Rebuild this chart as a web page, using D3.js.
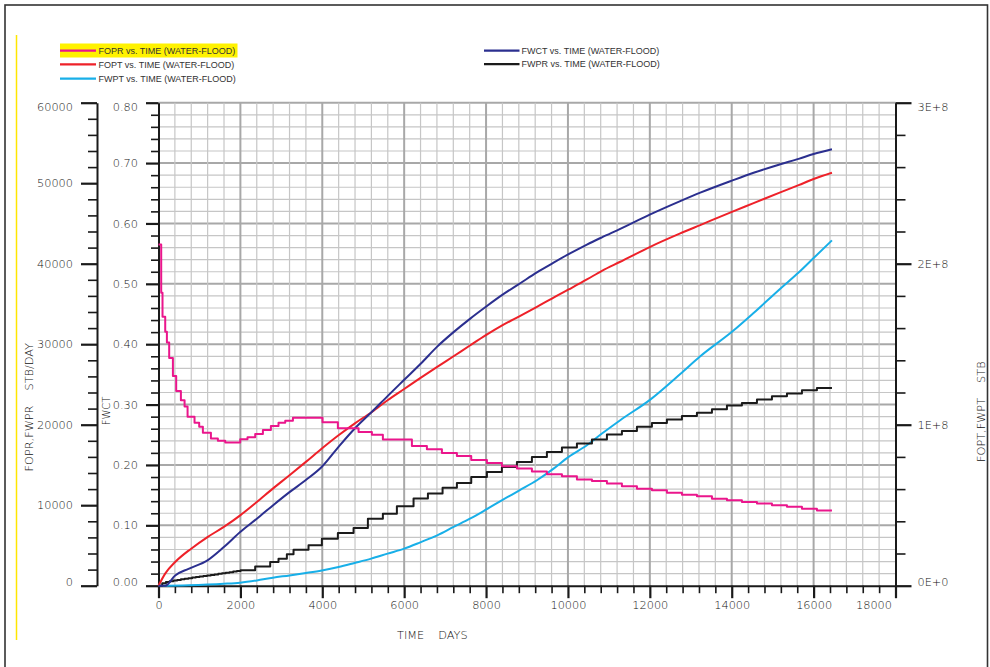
<!DOCTYPE html>
<html>
<head>
<meta charset="utf-8">
<script src="https://cdn.jsdelivr.net/npm/d3@7"></script>
<style>
  html, body { margin: 0; padding: 0; background: #fff; }
  svg { display: block; }
  .tick text { font-family: "DejaVu Sans", sans-serif; font-size: 11.3px; font-weight: 200; fill: #111; }
  .axis-title { font-family: "DejaVu Sans", sans-serif; font-size: 11.3px; font-weight: 200; fill: #111; }
  .legend text { font-family: "Liberation Sans", Arial, sans-serif; font-size: 9px; fill: #333; }
</style>
</head>
<body>
<svg id="chart" width="990" height="667"></svg>
<script>
// Field production summary, water-flood case (time in days)

// FOPR – field oil production rate, STB/DAY (step per report interval)
const foprDays = [0, 66, 98, 164, 205, 261, 352, 432, 547, 637, 710, 880, 994, 1084, 1280, 1450, 1630,
  1996, 2174, 2362, 2550, 2745, 2931, 3095, 3283, 4006, 4381, 4886, 5212, 5480, 6189, 6555, 6922,
  7288, 7638, 8021, 8387, 8754, 9120, 9486, 9853, 10219, 10586, 10952, 11318, 11685, 12051, 12417,
  12784, 13150, 13517, 13883, 14249, 14616, 14982, 15349, 15715, 16081, 16448];
const foprValues = [42400, 36400, 33400, 31550, 30200, 28300, 26050, 24200, 23050, 22250, 21000, 20250,
  19750, 19000, 18300, 18000, 17800, 18200, 18450, 18850, 19350, 19850, 20250, 20500, 20850, 20300,
  19550, 19100, 18750, 18150, 17350, 16950, 16500, 16100, 15600, 15250, 14850, 14550, 14200, 13850,
  13600, 13200, 13000, 12700, 12350, 12050, 11850, 11550, 11300, 11100, 10800, 10600, 10400, 10200,
  10000, 9800, 9550, 9350, 9350];

// FWPR – field water production rate, STB/DAY (step per report interval)
const fwprDays = [0, 91, 182, 273, 365, 456, 547, 638, 730, 821, 912, 1003, 1095, 1186, 1277, 1368,
  1460, 1551, 1642, 1733, 1824, 1915, 2006, 2361, 2728, 2931, 3135, 3298, 3664, 3990, 4381, 4764,
  5114, 5480, 5822, 6229, 6580, 6938, 7288, 7638, 8021, 8387, 8754, 9120, 9486, 9853, 10219, 10586,
  10952, 11318, 11685, 12051, 12417, 12784, 13150, 13517, 13883, 14249, 14616, 14982, 15349, 15715,
  16081, 16448];
const fwprValues = [0, 300, 450, 560, 640, 720, 800, 870, 940, 1010, 1080, 1140, 1210, 1270, 1340, 1400,
  1470, 1540, 1610, 1680, 1760, 1840, 1920, 2400, 2940, 3360, 3900, 4480, 5010, 5840, 6550, 7170,
  8330, 8950, 9860, 10820, 11440, 12180, 12760, 13510, 14130, 14750, 15370, 16000, 16620, 17160, 17660,
  18150, 18770, 19230, 19730, 20220, 20640, 21090, 21470, 21920, 22380, 22710, 23120, 23540, 23870,
  24290, 24570, 24570];

// FWCT – field water cut, fraction
const fwctDays = [0, 165, 407, 733, 1197, 1596, 1995, 2402, 2793, 3200, 3599, 3990, 4397, 4788, 5212,
  5594, 6001, 6409, 6807, 7206, 7606, 7996, 8404, 8835, 9242, 9649, 10016, 10463, 10830, 11277, 12010,
  12743, 13232, 14005, 14534, 15186, 15634, 16000, 16448];
const fwctValues = [0, 0, 0.017, 0.028, 0.042, 0.064, 0.089, 0.111, 0.133, 0.155, 0.175, 0.197, 0.230,
  0.260, 0.288, 0.314, 0.341, 0.368, 0.396, 0.420, 0.442, 0.462, 0.482, 0.501, 0.519, 0.535, 0.549,
  0.565, 0.577, 0.591, 0.615, 0.637, 0.651, 0.671, 0.684, 0.698, 0.707, 0.715, 0.723];

// FOPT – field oil production total, STB
const foptDays = [0, 163, 407, 798, 1197, 1596, 1995, 2402, 2793, 3200, 3599, 3990, 4397, 4788, 5212,
  5594, 6001, 6409, 6807, 7206, 7606, 7996, 8404, 8835, 9242, 9649, 10016, 10463, 10830, 11277, 12010,
  12743, 13232, 14005, 14534, 15186, 15634, 16000, 16448];
const foptValues = [0, 7.5e6, 14.7e6, 23.0e6, 30.2e6, 36.5e6, 43.7e6, 52.0e6, 60.3e6, 68.6e6, 76.9e6,
  85.2e6, 93.4e6, 100.7e6, 107.9e6, 115.2e6, 122.2e6, 129.2e6, 135.9e6, 142.5e6, 149.2e6, 155.6e6,
  161.8e6, 167.6e6, 173.2e6, 179.0e6, 184.0e6, 190.2e6, 195.6e6, 201.2e6, 210.5e6, 218.8e6, 224.0e6,
  232.2e6, 237.6e6, 244.3e6, 248.8e6, 252.6e6, 256.5e6];

// FWPT – field water production total, STB
const fwptDays = [0, 733, 1596, 1995, 2402, 2793, 3200, 3599, 3990, 4397, 4788, 5195, 5594, 6001, 6409,
  6807, 7206, 7606, 7996, 8404, 8835, 9242, 9649, 10016, 10463, 10830, 11277, 12010, 12743, 13232, 14005,
  14534, 15186, 15634, 16000, 16448];
const fwptValues = [0, 0.3e6, 1.2e6, 1.9e6, 3.3e6, 5.0e6, 6.4e6, 7.9e6, 9.5e6, 11.6e6, 14.1e6, 16.8e6,
  19.9e6, 23.0e6, 27.1e6, 31.3e6, 36.5e6, 41.6e6, 47.2e6, 53.3e6, 59.5e6, 65.5e6, 72.7e6, 80.0e6, 87.2e6,
  94.5e6, 102.8e6, 115.6e6, 131.5e6, 142.5e6, 157.7e6, 169.4e6, 184.5e6, 194.5e6, 203.5e6, 214.5e6];

// Axis ticks and labels
const rateTicks = [0, 10000, 20000, 30000, 40000, 50000, 60000];
const cutTicks = [0, 0.1, 0.2, 0.3, 0.4, 0.5, 0.6, 0.7, 0.8];
const totalTicks = [0, 1e8, 2e8, 3e8];
const totalTickLabels = ["0E+0", "1E+8", "2E+8", "3E+8"];
const dayTicks = [0, 2000, 4000, 6000, 8000, 10000, 12000, 14000, 16000, 18000];

// Legend entries
const legendLeftNames = ["FOPR vs. TIME (WATER-FLOOD)", "FOPT vs. TIME (WATER-FLOOD)", "FWPT vs. TIME (WATER-FLOOD)"];
const legendRightNames = ["FWCT vs. TIME (WATER-FLOOD)", "FWPR vs. TIME (WATER-FLOOD)"];

const COLORS = {
  FOPR: "#ea168c",
  FOPT: "#ee2129",
  FWPT: "#18afe8",
  FWCT: "#2b2f8f",
  FWPR: "#1b1b1b"
};

const svg = d3.select("#chart");
const plotLeft = 158.5, plotRight = 895.5, plotTop = 102.7, plotBottom = 585.7;

const x = d3.scaleLinear().domain([0, 18000]).range([plotLeft, plotRight]);
const yRate = d3.scaleLinear().domain([0, 60000]).range([plotBottom, plotTop]);
const yCut = d3.scaleLinear().domain([0, 0.8]).range([plotBottom, plotTop]);
const yTotal = d3.scaleLinear().domain([0, 3e8]).range([plotBottom, plotTop]);

// Page frame and margin marker
svg.append("rect")
  .attr("x", 5).attr("y", 5).attr("width", 982.5).attr("height", 680)
  .attr("fill", "none").attr("stroke", "#333").attr("stroke-width", 1.6);
svg.append("line")
  .attr("x1", 16.5).attr("x2", 16.5).attr("y1", 35).attr("y2", 640)
  .attr("stroke", "#ffe600").attr("stroke-width", 1.5);

// Grid: fine lines every 0.02 water cut / 400 days, heavier every 0.1 / 2000 days
const grid = svg.append("g");
const cutGridSteps = d3.range(1, 41);
grid.selectAll("line.h").data(cutGridSteps).join("line")
  .attr("class", "h")
  .attr("x1", plotLeft).attr("x2", plotRight)
  .attr("y1", i => yCut(i * 0.02)).attr("y2", i => yCut(i * 0.02))
  .attr("stroke", i => i % 5 === 0 ? "#a8a8a8" : "#c6c6c6")
  .attr("stroke-width", i => i % 5 === 0 ? 2 : 1.2);
const dayGridSteps = d3.range(1, 45);
grid.selectAll("line.v").data(dayGridSteps).join("line")
  .attr("class", "v")
  .attr("y1", plotTop).attr("y2", plotBottom)
  .attr("x1", i => x(i * 400)).attr("x2", i => x(i * 400))
  .attr("stroke", i => i % 5 === 0 ? "#a8a8a8" : "#c6c6c6")
  .attr("stroke-width", i => i % 5 === 0 ? 2 : 1.2);

function styleAxis(g, width) {
  g.select(".domain").attr("stroke", "#1a1a1a").attr("stroke-width", 2);
  g.selectAll(".tick line").attr("stroke", "#1a1a1a").attr("stroke-width", width);
}
function minorAxis(g) {
  g.select(".domain").remove();
  g.selectAll(".tick line").attr("stroke", "#1a1a1a").attr("stroke-width", 1.6);
}
function nudgeEnds(g, low, high) {
  g.selectAll(".tick").filter(d => d === low).select("text").attr("y", -4);
  g.selectAll(".tick").filter(d => d === high).select("text").attr("y", 4.5);
}

// Left rate axis (FOPR, FWPR)
const rateAxisX = 97;
const rateAxis = svg.append("g").attr("transform", `translate(${rateAxisX},0)`)
  .call(d3.axisLeft(yRate).tickValues(rateTicks).tickSize(16).tickSizeOuter(0).tickPadding(8).tickFormat(d3.format("d")));
styleAxis(rateAxis, 2.2);
nudgeEnds(rateAxis, 0, 60000);
svg.append("g").attr("transform", `translate(${rateAxisX},0)`)
  .call(d3.axisLeft(yRate).tickValues(d3.range(2000, 60000, 2000).filter(v => v % 10000)).tickSize(9).tickSizeOuter(0).tickFormat(""))
  .call(minorAxis);

// Water cut axis on the plot's left edge
const cutAxis = svg.append("g").attr("transform", `translate(${plotLeft},0)`)
  .call(d3.axisLeft(yCut).tickValues(cutTicks).tickSize(12.5).tickSizeOuter(0).tickPadding(8).tickFormat(d3.format(".2f")));
styleAxis(cutAxis, 2.2);
nudgeEnds(cutAxis, 0, 0.8);
svg.append("g").attr("transform", `translate(${plotLeft},0)`)
  .call(d3.axisLeft(yCut).tickValues(d3.range(1, 40).filter(i => i % 5).map(i => i * 0.02)).tickSize(7.5).tickSizeOuter(0).tickFormat(""))
  .call(minorAxis);

// Right totals axis (FOPT, FWPT)
const totalAxis = svg.append("g").attr("transform", `translate(${plotRight},0)`)
  .call(d3.axisRight(yTotal).tickValues(totalTicks).tickSize(16).tickSizeOuter(0).tickPadding(6)
    .tickFormat((d, i) => totalTickLabels[i]));
styleAxis(totalAxis, 2.2);
nudgeEnds(totalAxis, 0, 3e8);
svg.append("g").attr("transform", `translate(${plotRight},0)`)
  .call(d3.axisRight(yTotal).tickValues(d3.range(1, 15).filter(i => i % 5).map(i => i * 2e7)).tickSize(10).tickSizeOuter(0).tickFormat(""))
  .call(minorAxis);

// Time axis
const timeAxis = svg.append("g").attr("transform", `translate(0,${plotBottom})`)
  .call(d3.axisBottom(x).tickValues(dayTicks).tickSize(12.5).tickSizeOuter(0).tickPadding(3).tickFormat(d3.format("d")));
styleAxis(timeAxis, 2.2);
timeAxis.selectAll(".tick").filter(d => d === 18000).select("text")
  .attr("text-anchor", "end").attr("x", -4);
svg.append("g").attr("transform", `translate(0,${plotBottom})`)
  .call(d3.axisBottom(x).tickValues(d3.range(1, 45).filter(i => i % 5).map(i => i * 400)).tickSize(7.5).tickSizeOuter(0).tickFormat(""))
  .call(minorAxis);

// Series
const series = svg.append("g").attr("fill", "none").attr("stroke-width", 2).attr("stroke-linejoin", "round");
function drawSeries(days, values, yScale, color, curve) {
  const gen = d3.line().x(d => x(d[0])).y(d => yScale(d[1])).curve(curve);
  series.append("path").datum(d3.zip(days, values)).attr("d", gen).attr("stroke", color);
}
drawSeries(fwptDays, fwptValues, yTotal, COLORS.FWPT, d3.curveMonotoneX);
drawSeries(fwprDays, fwprValues, yRate, COLORS.FWPR, d3.curveStepAfter);
drawSeries(foptDays, foptValues, yTotal, COLORS.FOPT, d3.curveMonotoneX);
drawSeries(fwctDays, fwctValues, yCut, COLORS.FWCT, d3.curveMonotoneX);
drawSeries(foprDays, foprValues, yRate, COLORS.FOPR, d3.curveStepAfter);

// Axis titles
svg.append("text").attr("class", "axis-title")
  .attr("transform", "translate(33,471.5) rotate(-90)")
  .call(t => {
    t.append("tspan").text("FOPR,FWPR");
    t.append("tspan").attr("dx", 15).text("STB/DAY");
  });
svg.append("text").attr("class", "axis-title")
  .attr("transform", "translate(110,411) rotate(-90)")
  .attr("text-anchor", "middle").style("font-size", "10px")
  .text("FWCT");
svg.append("text").attr("class", "axis-title")
  .attr("transform", "translate(985,462) rotate(-90)")
  .call(t => {
    t.append("tspan").text("FOPT,FWPT");
    t.append("tspan").attr("dx", 15).text("STB");
  });
svg.append("text").attr("class", "axis-title")
  .attr("x", 397).attr("y", 639)
  .call(t => {
    t.append("tspan").text("TIME");
    t.append("tspan").attr("dx", 14).text("DAYS");
  });

// Legend
const legend = svg.append("g").attr("class", "legend");
legend.append("rect")
  .attr("x", 60).attr("y", 43.5).attr("width", 177.5).attr("height", 14)
  .attr("fill", "#fff200");
const leftColors = [COLORS.FOPR, COLORS.FOPT, COLORS.FWPT];
const rightColors = [COLORS.FWCT, COLORS.FWPR];
const leftRowsY = [50.7, 64.4, 78.6];
const rightRowsY = [50.7, 64.2];
legendLeftNames.forEach((name, i) => {
  legend.append("line").attr("x1", 60).attr("x2", 96).attr("y1", leftRowsY[i]).attr("y2", leftRowsY[i])
    .attr("stroke", leftColors[i]).attr("stroke-width", 2.2);
  legend.append("text").attr("x", 98.5).attr("y", leftRowsY[i]).attr("dy", "0.35em").text(name);
});
legendRightNames.forEach((name, i) => {
  legend.append("line").attr("x1", 484).attr("x2", 519.5).attr("y1", rightRowsY[i]).attr("y2", rightRowsY[i])
    .attr("stroke", rightColors[i]).attr("stroke-width", 2.2);
  legend.append("text").attr("x", 521.5).attr("y", rightRowsY[i]).attr("dy", "0.35em").text(name);
});
</script>
</body>
</html>
